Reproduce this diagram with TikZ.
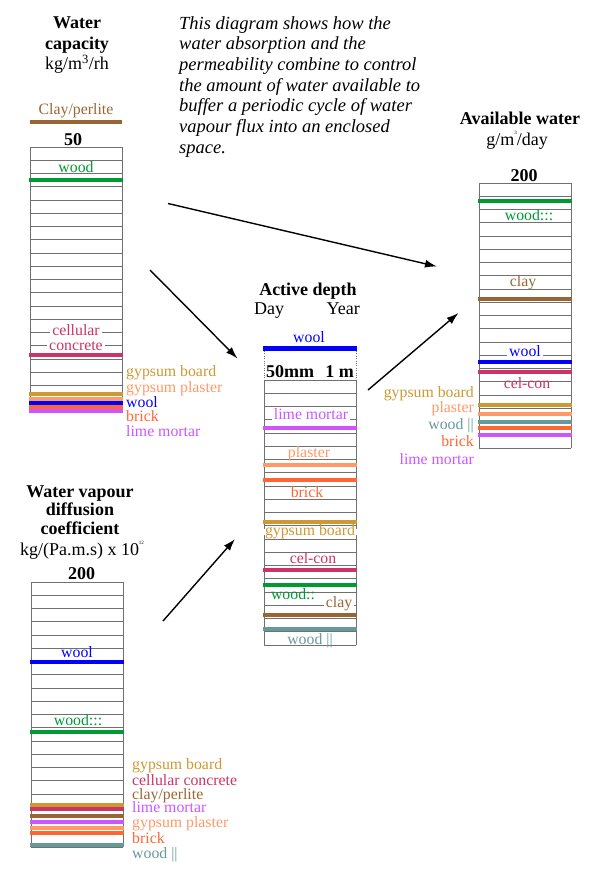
\documentclass[tikz,border=0pt]{standalone}
\usepackage{fontspec}
\setmainfont{Liberation Serif}
\usetikzlibrary{arrows.meta}
\definecolor{woodc}{HTML}{009933}
\definecolor{clayc}{HTML}{996633}
\definecolor{celconc}{HTML}{CC3366}
\definecolor{gboardc}{HTML}{CC9933}
\definecolor{plasterc}{HTML}{FF9966}
\definecolor{woolc}{HTML}{0000FF}
\definecolor{brickc}{HTML}{FF6633}
\definecolor{limec}{HTML}{CC55FF}
\definecolor{woodxc}{HTML}{669999}
\definecolor{gridc}{HTML}{707070}
\newcommand{\tinysup}[1]{\raisebox{1.3ex}{\fontsize{5}{5}\selectfont #1}}
\begin{document}
\begin{tikzpicture}[x=1pt,y=-1pt,>={Latex[length=12pt,width=8pt]},
    head/.style={font=\fontsize{18}{20}\selectfont\bfseries, inner sep=0pt, anchor=base},
    unit/.style={font=\fontsize{18}{20}\selectfont, inner sep=0pt, anchor=base},
    lbl/.style={font=\fontsize{15.8}{18}\selectfont, inner xsep=2pt, inner ysep=0pt, text height=1.2ex, text depth=0.1ex, anchor=base},
    inlbl/.style={lbl, fill=white},
    note/.style={font=\fontsize{18.5}{20.7}\selectfont\itshape, align=left, inner sep=0pt, anchor=north west},
    gridline/.style={draw=gridc, line width=0.9pt},
    band/.style={line width=4pt},
    flow/.style={->, line width=1.4pt}]
\useasboundingbox (0,0) rectangle (600,875);
% the four columns
\foreach \cx/\cy in {30/147, 264/380, 479/183, 31/582}{
    \foreach \k in {0,...,20} \draw[gridline] (\cx,\cy+13.25*\k) -- ++(92,0);
    \draw[gridline] (\cx,\cy) -- ++(0,265);
    \draw[gridline] (\cx+92,\cy) -- ++(0,265);
}
% bands
\foreach \y/\c in {180/woodc, 355.3/celconc, 394/gboardc, 398.7/plasterc, 402.7/woolc, 407/brickc, 411/limec}
    \draw[band,draw=\c] (29,\y) -- (123,\y);
\foreach \y/\c in {428/limec, 465/plasterc, 480/brickc, 521.7/gboardc, 570/celconc, 585/woodc, 615/clayc, 629/woodxc}
    \draw[band,draw=\c] (263,\y) -- (357,\y);
\foreach \y/\c in {201.3/woodc, 299.3/clayc, 362.3/woolc, 372/celconc, 405.3/gboardc, 414.3/plasterc, 421.7/woodxc, 427.7/brickc, 435.3/limec}
    \draw[band,draw=\c] (478,\y) -- (572,\y);
\foreach \y/\c in {662.3/woolc, 732/woodc, 805/gboardc, 809.3/celconc, 816/clayc, 822/limec, 827.7/plasterc, 832.7/brickc, 845/woodxc}
    \draw[band,draw=\c] (30,\y) -- (124,\y);
\draw[band,draw=clayc,line width=4.5pt] (30,122) -- (122,122);
\draw[band,draw=woolc,line width=5pt] (263,348) -- (357,348);
\draw[dotted,gridc] (264,351) -- (264,380);
\draw[dotted,gridc] (356,351) -- (356,380);

\node[note] (about) at (179,16) {This diagram shows how the\\water absorption and the\\permeability combine to control\\the amount of water available to\\buffer a periodic cycle of water\\vapour flux into an enclosed\\space.};

% water capacity
\node[head] (capT1) at (77,28.3) {Water};
\node[head] (capT2) at (77,49.3) {capacity};
\node[unit] (capU) at (77,70) {kg/m\textsuperscript{3}/rh};
\node[lbl,text=clayc] (capClay) at (76,114.3) {Clay/perlite};
\node[head] (capMax) at (73,145.7) {50};
\node[inlbl,text=woodc] (capWood) at (76,172) {wood};
\node[inlbl,text=celconc] (capCel1) at (76,335) {cellular};
\node[inlbl,text=celconc] (capCel2) at (76,350) {concrete};
\node[lbl,anchor=base west,text=gboardc] (capGb) at (124,376.5) {gypsum board};
\node[lbl,anchor=base west,text=plasterc] (capGp) at (124,392) {gypsum plaster};
\node[lbl,anchor=base west,text=woolc] (capWool) at (124,407) {wool};
\node[lbl,anchor=base west,text=brickc] (capBrick) at (124,421) {brick};
\node[lbl,anchor=base west,text=limec] (capLime) at (124,436) {lime mortar};

% active depth
\node[head] (actT) at (308,295) {Active depth};
\node[unit,anchor=base west] (actDay) at (254,314.3) {Day};
\node[unit,anchor=base east] (actYear) at (360,314.3) {Year};
\node[lbl,text=woolc] (actWool) at (309,342.3) {wool};
\node[head,anchor=base west] (actMm) at (266,377.7) {50mm};
\node[head,anchor=base east] (actM) at (354,377.7) {1 m};
\node[inlbl,text=limec] (actLime) at (311,419.3) {lime mortar};
\node[inlbl,text=plasterc] (actPl) at (309,457.3) {plaster};
\node[inlbl,text=brickc] (actBrick) at (307,497.3) {brick};
\node[inlbl,text=gboardc] (actGb) at (310,535) {gypsum board};
\node[inlbl,text=celconc] (actCel) at (313,563.3) {cel-con};
\node[inlbl,text=woodc] (actWood) at (293,599.3) {wood::};
\node[inlbl,text=clayc] (actClay) at (339,607.3) {clay};
\node[inlbl,text=woodxc] (actWoodx) at (310,644) {wood ||};

% available water
\node[head] (avT) at (520,124) {Available water};
\node[unit] (avU) at (517,145.7) {g/m\tinysup{3}/day};
\node[head] (avMax) at (524,181.7) {200};
\node[inlbl,text=woodc] (avWood) at (529,220.7) {wood:::};
\node[inlbl,text=clayc] (avClay) at (523,286.7) {clay};
\node[inlbl,text=woolc] (avWool) at (525,356.7) {wool};
\node[inlbl,text=celconc] (avCel) at (527,388.3) {cel-con};
\node[lbl,anchor=base east,text=gboardc] (avGb) at (476,397.7) {gypsum board};
\node[lbl,anchor=base east,text=plasterc] (avPl) at (476,412.7) {plaster};
\node[lbl,anchor=base east,text=woodxc] (avWoodx) at (476,429.3) {wood ||};
\node[lbl,anchor=base east,text=brickc] (avBrick) at (476,446.7) {brick};
\node[lbl,anchor=base east,text=limec] (avLime) at (476,464) {lime mortar};

% vapour diffusion
\node[head] (difT1) at (80,497.3) {Water vapour};
\node[head] (difT2) at (80,515.7) {diffusion};
\node[head] (difT3) at (80,534) {coefficient};
\node[unit] (difU) at (82,555) {kg/(Pa.m.s) x 10\tinysup{12}};
\node[head] (difMax) at (81.7,579.3) {200};
\node[inlbl,text=woolc] (difWool) at (77,657.3) {wool};
\node[inlbl,text=woodc] (difWood) at (78,725) {wood:::};
\node[lbl,anchor=base west,text=gboardc] (difGb) at (130,769.3) {gypsum board};
\node[lbl,anchor=base west,text=celconc] (difCel) at (130,785) {cellular concrete};
\node[lbl,anchor=base west,text=clayc] (difClay) at (130,799.3) {clay/perlite};
\node[lbl,anchor=base west,text=limec] (difLime) at (130,812.7) {lime mortar};
\node[lbl,anchor=base west,text=plasterc] (difGp) at (130,827.3) {gypsum plaster};
\node[lbl,anchor=base west,text=brickc] (difBrick) at (130,843.3) {brick};
\node[lbl,anchor=base west,text=woodxc] (difWoodx) at (130,858.3) {wood ||};

% arrows
\coordinate (arA0) at (168,203.5);
\coordinate (arA1) at (437,266.5);
\coordinate (arB0) at (150,270);
\coordinate (arB1) at (237.5,358.5);
\coordinate (arD0) at (163,621);
\coordinate (arD1) at (235,539);
\coordinate (arC0) at (368,390);
\coordinate (arC1) at (458.5,313);
\draw[flow] (arA0) -- (arA1);
\draw[flow] (arB0) -- (arB1);
\draw[flow] (arD0) -- (arD1);
\draw[flow] (arC0) -- (arC1);
\end{tikzpicture}
\end{document}
